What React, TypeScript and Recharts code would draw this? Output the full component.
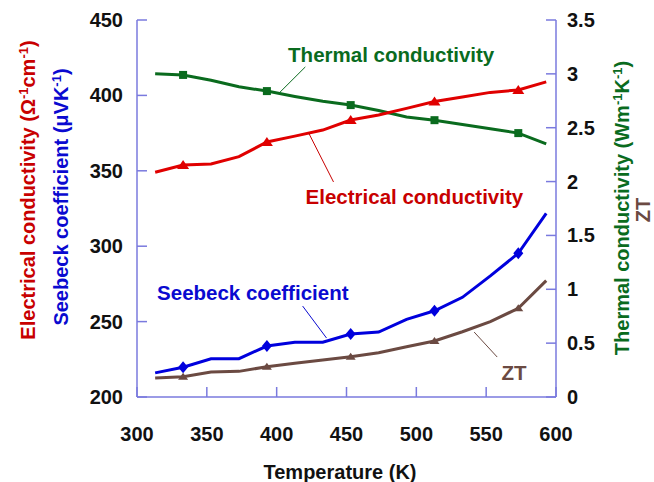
import { LineChart, Line, XAxis, YAxis, ReferenceLine, ReferenceDot } from "recharts";

const temps = [313, 333, 353, 373, 393, 413, 433, 453, 473, 493, 513, 533, 553, 573, 593];
const electrical = [349, 353.8, 354.5, 359.4, 369.1, 373, 377, 383.7, 387, 391.4, 396, 399, 402, 403.6, 409];
const seebeck = [216, 219.7, 225.4, 225.4, 233.8, 236.3, 236.3, 241.8, 243.1, 251.5, 257.2, 266.1, 280.3, 295.3, 321.8];
const thermal = [3.0, 2.99, 2.94, 2.88, 2.84, 2.79, 2.745, 2.71, 2.66, 2.6, 2.57, 2.53, 2.49, 2.45, 2.35];
const zt = [0.176, 0.188, 0.232, 0.238, 0.281, 0.313, 0.343, 0.374, 0.411, 0.467, 0.52, 0.606, 0.7, 0.823, 1.08];
const markerTemps = [333, 393, 453, 513, 573];

const xTicks = [300, 350, 400, 450, 500, 550, 600];
const leftTicks = [200, 250, 300, 350, 400, 450];
const rightTicks = [0, 0.5, 1, 1.5, 2, 2.5, 3, 3.5];

// callout text + leader line, in data units
const callouts = [
  { text: "Thermal conductivity", axis: "right", color: "#0a6b1e", at: [482, 3.175], from: [420.5, 3.064], to: [402, 2.825] },
  { text: "Electrical conductivity", axis: "left", color: "#c80000", at: [498.6, 332.6], from: [422.9, 375.1], to: [440.7, 342.6] },
  { text: "Seebeck coefficient", axis: "left", color: "#0a0ad0", at: [382.9, 269], from: [418.6, 260.3], to: [435.7, 239.1] },
  { text: "ZT", axis: "right", color: "#6b4a42", at: [570, 0.223], from: [541.4, 0.603], to: [557.9, 0.371] },
];

const data = temps.map((t, i) => ({
  t,
  electrical: electrical[i],
  seebeck: seebeck[i],
  thermal: thermal[i],
  zt: zt[i],
}));

const FONT = "'Liberation Sans', Arial, sans-serif";
const AXIS = "#7a7ade";

const C_RED = "#e00000";
const C_GREEN = "#0a6b1e";
const C_BLUE = "#0000dd";
const C_BROWN = "#6b4a42";

function marker(shape: string, color: string) {
  return (props: any) => {
    const { cx, cy, payload, index } = props;
    if (!markerTemps.includes(payload.t)) return <g key={index} />;
    if (shape === "square")
      return <rect key={index} x={cx - 4} y={cy - 4} width={8} height={8} fill={color} />;
    if (shape === "diamond")
      return <polygon key={index} points={`${cx},${cy - 6} ${cx + 5},${cy} ${cx},${cy + 6} ${cx - 5},${cy}`} fill={color} />;
    const s = shape === "smalltri" ? 4 : 5;
    return <polygon key={index} points={`${cx},${cy - s} ${cx + s + 1},${cy + s - 1} ${cx - s - 1},${cy + s - 1}`} fill={color} />;
  };
}

const LeftTick = (props: any) => {
  const { x, y, payload } = props;
  return (
    <g>
      <line x1={x + 14} x2={x + 24} y1={y} y2={y} stroke={AXIS} strokeWidth={1.5} />
      <text x={x} y={y} dy="0.35em" textAnchor="end" fontFamily={FONT} fontWeight="bold" fontSize={20} fill="#111">
        {payload.value}
      </text>
    </g>
  );
};

const RightTick = (props: any) => {
  const { x, y, payload } = props;
  return (
    <g>
      <line x1={x - 11} x2={x - 21} y1={y} y2={y} stroke={AXIS} strokeWidth={1.5} />
      <text x={x} y={y} dy="0.35em" textAnchor="start" fontFamily={FONT} fontWeight="bold" fontSize={20} fill="#111">
        {payload.value}
      </text>
    </g>
  );
};

const BottomTick = (props: any) => {
  const { x, y, payload } = props;
  return (
    <g>
      <line x1={x} x2={x} y1={y - 37} y2={y - 47} stroke={AXIS} strokeWidth={1.5} />
      <text x={x} y={y} dy="0.35em" textAnchor="middle" fontFamily={FONT} fontWeight="bold" fontSize={20} fill="#111">
        {payload.value}
      </text>
    </g>
  );
};

const sup = { baselineShift: "super", fontSize: 13 } as const;

const LeftTitles = () => (
  <g fontFamily={FONT} fontWeight="bold" fontSize={20}>
    <text transform="translate(35,190) rotate(-90)" textAnchor="middle" fill="#c80000">
      Electrical conductivity (Ω<tspan {...sup}>-1</tspan>cm<tspan {...sup}>-1</tspan>)
    </text>
    <text transform="translate(68,197) rotate(-90)" textAnchor="middle" fill="#0a0ad0">
      Seebeck coefficient (μVK<tspan {...sup}>-1</tspan>)
    </text>
  </g>
);

const RightTitles = () => (
  <g fontFamily={FONT} fontWeight="bold" fontSize={20}>
    <text transform="translate(629,208) rotate(-90)" textAnchor="middle" fill={C_GREEN}>
      Thermal conductivity (Wm<tspan {...sup}>-1</tspan>K<tspan {...sup}>-1</tspan>)
    </text>
    <text transform="translate(650,210) rotate(-90)" textAnchor="middle" fill={C_BROWN}>
      ZT
    </text>
  </g>
);

const BottomTitle = () => (
  <text x={340} y={472} dy="0.35em" textAnchor="middle" fontFamily={FONT} fontWeight="bold" fontSize={20} fill="#111">
    Temperature (K)
  </text>
);

export default function App() {
  return (
    <div style={{ position: "absolute", left: 0, top: 0, width: 654, height: 482, background: "#fff" }}>
      <LineChart width={654} height={482} data={data} margin={{ top: 20, right: 0, bottom: 0, left: 0 }}>
        <XAxis
          dataKey="t"
          type="number"
          domain={[300, 600]}
          ticks={xTicks}
          height={85}
          axisLine={{ stroke: AXIS, strokeWidth: 1.5 }}
          tickLine={false}
          tickSize={0}
          tickMargin={37}
          tick={BottomTick}
          interval={0}
          label={{ content: BottomTitle }}
        />
        <YAxis
          yAxisId="left"
          orientation="left"
          domain={[200, 450]}
          ticks={leftTicks}
          width={137}
          axisLine={{ stroke: AXIS, strokeWidth: 1.5 }}
          tickLine={false}
          tickSize={0}
          tickMargin={14}
          tick={LeftTick}
          interval={0}
          label={{ content: LeftTitles }}
        />
        <YAxis
          yAxisId="right"
          orientation="right"
          domain={[0, 3.5]}
          ticks={rightTicks}
          width={98}
          axisLine={{ stroke: AXIS, strokeWidth: 1.5 }}
          tickLine={false}
          tickSize={0}
          tickMargin={11}
          tick={RightTick}
          interval={0}
          label={{ content: RightTitles }}
        />
        <Line yAxisId="right" dataKey="thermal" stroke={C_GREEN} strokeWidth={3} dot={marker("square", C_GREEN)} isAnimationActive={false} />
        <Line yAxisId="left" dataKey="electrical" stroke={C_RED} strokeWidth={3} dot={marker("tri", C_RED)} isAnimationActive={false} />
        <Line yAxisId="right" dataKey="zt" stroke={C_BROWN} strokeWidth={3} dot={marker("smalltri", C_BROWN)} isAnimationActive={false} />
        <Line yAxisId="left" dataKey="seebeck" stroke={C_BLUE} strokeWidth={3} dot={marker("diamond", C_BLUE)} isAnimationActive={false} />
        {callouts.map((c) => (
          <ReferenceLine
            key={"l" + c.text}
            yAxisId={c.axis}
            segment={[
              { x: c.from[0], y: c.from[1] },
              { x: c.to[0], y: c.to[1] },
            ]}
            stroke={c.color}
            strokeWidth={1}
          />
        ))}
        {callouts.map((c) => (
          <ReferenceDot
            key={"d" + c.text}
            yAxisId={c.axis}
            x={c.at[0]}
            y={c.at[1]}
            r={0}
            fill="none"
            stroke="none"
            label={{ value: c.text, position: "center", fill: c.color, fontSize: 20.5, fontWeight: "bold", fontFamily: FONT }}
          />
        ))}
      </LineChart>
    </div>
  );
}
